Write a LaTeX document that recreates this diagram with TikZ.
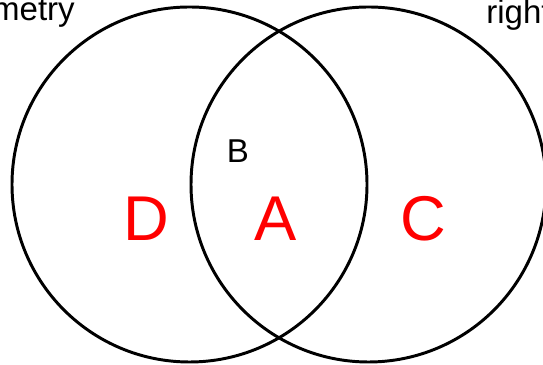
\documentclass[tikz,border=0pt]{standalone}
\usepackage{fontspec}
\setmainfont{Liberation Sans}
\usetikzlibrary{positioning}

\begin{document}
\begin{tikzpicture}[
    x=0.025cm, y=0.025cm,
    set line/.style={draw=black, line width=2.1pt},
    region label/.style={text=red, font=\fontsize{45}{50}\selectfont, inner sep=0pt},
    small label/.style={font=\fontsize{23.5}{28}\selectfont, inner sep=0pt}
]
    \useasboundingbox (0, 0) rectangle (543, 365);
    \clip (0, 0) rectangle (543, 365);

    % circles
    \coordinate (left) at (189.5, 180.5);
    \coordinate (right) at (368.5, 180.5);
    \draw[set line] (left) circle[radius=177.5];
    \draw[set line] (right) circle[radius=177.5];

    % titles
    \node[small label, anchor=base east] (leftname) at (75, 344) {metry};
    \node[small label, anchor=base west] (rightname) at (486, 341) {right};

    % regions
    \node[region label] (d) at (146, 146) {D};
    \node[region label] (a) at (276, 146) {A};
    \node[region label] (c) at (423, 146) {C};
    \node[small label] (b) at (238, 214) {B};
\end{tikzpicture}
\end{document}
